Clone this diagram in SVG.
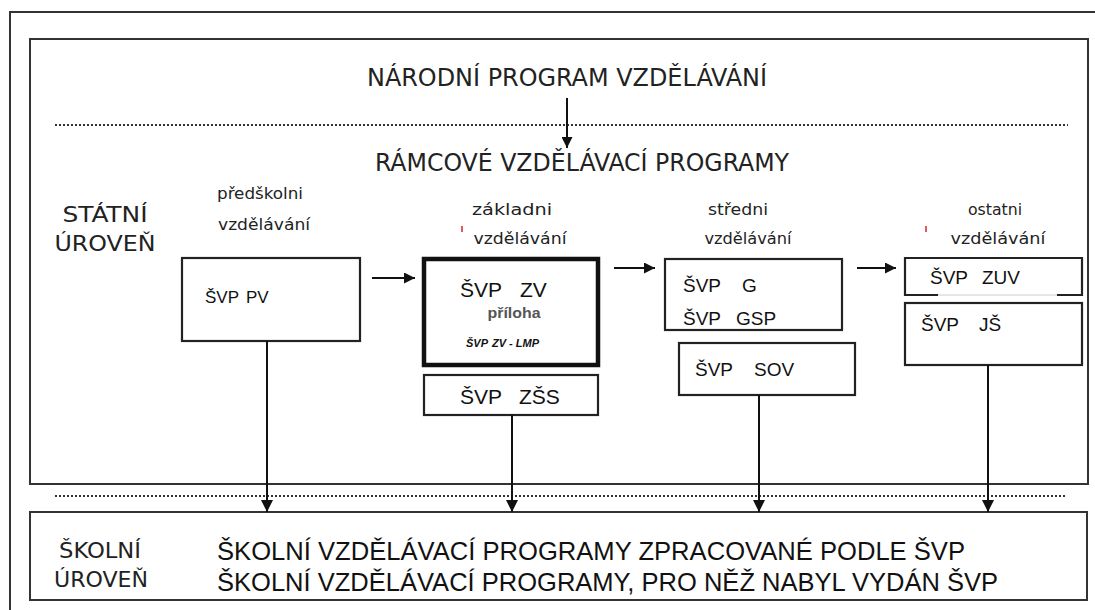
<svg xmlns="http://www.w3.org/2000/svg" width="1095" height="610" viewBox="0 0 1095 610">
<defs>
<marker id="ah" viewBox="0 0 10 10" refX="10" refY="5" markerWidth="11" markerHeight="11" markerUnits="userSpaceOnUse" orient="auto">
<path d="M0,0 L10,5 L0,10 z" fill="#111"/>
</marker>
<marker id="ahv" viewBox="0 0 10 10" refX="10" refY="5" markerWidth="12" markerHeight="12" markerUnits="userSpaceOnUse" orient="auto">
<path d="M0,0 L10,5 L0,10 z" fill="#111"/>
</marker>
</defs>
<style>
.frame{fill:none;stroke:#333;stroke-width:2}
.box{fill:#fff;stroke:#222;stroke-width:2.2}
.thick{fill:#fff;stroke:#111;stroke-width:4.5}
.dot{stroke:#333;stroke-width:2;stroke-dasharray:2 2;fill:none}
.con{stroke:#111;stroke-width:2;fill:none}
.t{font-family:"DejaVu Sans Condensed","DejaVu Sans",sans-serif;fill:#222}
.a{font-family:"Liberation Sans",Arial,sans-serif;fill:#111}
.red{stroke:#d22;stroke-width:1.5}
</style>
<rect width="1095" height="610" fill="#fff"/>
<rect class="frame" x="10" y="12" width="1095" height="608"/>
<g id="statni">
<rect class="frame" x="30" y="39" width="1058" height="445"/>
<text class="t" x="567" y="86" font-size="24" text-anchor="middle" textLength="400" lengthAdjust="spacingAndGlyphs">NÁRODNÍ PROGRAM VZDĚLÁVÁNÍ</text>
<text class="t" x="582" y="171" font-size="24" text-anchor="middle" textLength="414" lengthAdjust="spacingAndGlyphs">RÁMCOVÉ VZDĚLÁVACÍ PROGRAMY</text>
<text class="t" x="105" y="222" font-size="21" text-anchor="middle" textLength="85" lengthAdjust="spacingAndGlyphs">STÁTNÍ</text>
<text class="t" x="105" y="251" font-size="21" text-anchor="middle" textLength="101" lengthAdjust="spacingAndGlyphs">ÚROVEŇ</text>
<text class="t" x="260" y="199" font-size="16" text-anchor="middle" textLength="86" lengthAdjust="spacingAndGlyphs">předškolni</text>
<text class="t" x="264" y="230" font-size="16" text-anchor="middle" textLength="92" lengthAdjust="spacingAndGlyphs">vzdělávání</text>
<text class="t" x="512" y="215" font-size="16" text-anchor="middle" textLength="80" lengthAdjust="spacingAndGlyphs">základni</text>
<text class="t" x="520" y="244" font-size="16" text-anchor="middle" textLength="93" lengthAdjust="spacingAndGlyphs">vzdělávání</text>
<line class="red" x1="462" y1="226" x2="462" y2="232"/>
<text class="t" x="738" y="215" font-size="16" text-anchor="middle" textLength="60" lengthAdjust="spacingAndGlyphs">středni</text>
<text class="t" x="748" y="244" font-size="16" text-anchor="middle" textLength="87" lengthAdjust="spacingAndGlyphs">vzdělávání</text>
<text class="t" x="995" y="215" font-size="16" text-anchor="middle" textLength="54" lengthAdjust="spacingAndGlyphs">ostatni</text>
<text class="t" x="998" y="244" font-size="16" text-anchor="middle" textLength="95" lengthAdjust="spacingAndGlyphs">vzdělávání</text>
<line class="red" x1="926" y1="226" x2="926" y2="232"/>
</g>
<g id="svp-pv">
<rect class="box" x="182" y="258" width="178" height="83"/>
<text class="a" y="303" font-size="17"><tspan x="205">ŠVP</tspan><tspan x="246">PV</tspan></text>
</g>
<g id="svp-zv">
<rect class="thick" x="424" y="259" width="174" height="106"/>
<text class="a" y="297" font-size="21"><tspan x="460">ŠVP</tspan><tspan x="520">ZV</tspan></text>
<text class="a" x="514" y="318" font-size="15" font-weight="bold" text-anchor="middle" style="fill:#555" textLength="53" lengthAdjust="spacingAndGlyphs">příloha</text>
<text class="a" y="347" font-size="11" font-weight="bold" font-style="italic"><tspan x="466">ŠVP</tspan><tspan x="492">ZV - LMP</tspan></text>
</g>
<g id="svp-zss">
<rect class="box" x="424" y="375" width="174" height="40"/>
<text class="a" y="404" font-size="21"><tspan x="460">ŠVP</tspan><tspan x="519">ZŠS</tspan></text>
</g>
<g id="svp-g">
<rect class="box" x="665" y="259" width="177" height="71"/>
<text class="a" y="292" font-size="19"><tspan x="683">ŠVP</tspan><tspan x="742">G</tspan></text>
<text class="a" y="325" font-size="19"><tspan x="683">ŠVP</tspan><tspan x="736">GSP</tspan></text>
</g>
<g id="svp-sov">
<rect class="box" x="679" y="343" width="176" height="52"/>
<text class="a" y="376" font-size="19"><tspan x="695">ŠVP</tspan><tspan x="754">SOV</tspan></text>
</g>
<g id="svp-zuv">
<path class="box" d="M938,295 L905,295 L905,258 L1082,258 L1082,295 L1057,295"/>
<line x1="938" y1="295" x2="1057" y2="295" stroke="#ccc" stroke-width="1"/>
<text class="a" y="284" font-size="19"><tspan x="930">ŠVP</tspan><tspan x="982">ZUV</tspan></text>
</g>
<g id="svp-js">
<rect class="box" x="905" y="303" width="177" height="62"/>
<text class="a" y="331" font-size="19"><tspan x="921">ŠVP</tspan><tspan x="979">JŠ</tspan></text>
</g>
<g id="skolni">
<rect class="frame" x="30" y="512" width="1057" height="88"/>
<text class="t" x="100" y="558" font-size="21" text-anchor="middle" textLength="82" lengthAdjust="spacingAndGlyphs">ŠKOLNÍ</text>
<text class="t" x="101" y="587" font-size="21" text-anchor="middle" textLength="94" lengthAdjust="spacingAndGlyphs">ÚROVEŇ</text>
<text class="a" x="217" y="560" font-size="25" textLength="748" lengthAdjust="spacingAndGlyphs">ŠKOLNÍ VZDĚLÁVACÍ PROGRAMY ZPRACOVANÉ PODLE ŠVP</text>
<text class="a" x="217" y="591" font-size="25" textLength="781" lengthAdjust="spacingAndGlyphs">ŠKOLNÍ VZDĚLÁVACÍ PROGRAMY, PRO NĚŽ NABYL VYDÁN ŠVP</text>
</g>
<g id="connectors">
<line class="dot" x1="55" y1="125" x2="1068" y2="125"/>
<line class="dot" x1="55" y1="496" x2="1065" y2="496"/>
<line class="con" x1="567" y1="98" x2="567" y2="148" marker-end="url(#ah)"/>
<line class="con" x1="372" y1="278" x2="415" y2="278" marker-end="url(#ah)"/>
<line class="con" x1="614" y1="268" x2="655" y2="268" marker-end="url(#ah)"/>
<line class="con" x1="857" y1="268" x2="896" y2="268" marker-end="url(#ah)"/>
<line class="con" x1="267" y1="341" x2="267" y2="512" marker-end="url(#ahv)"/>
<line class="con" x1="512" y1="415" x2="512" y2="512" marker-end="url(#ahv)"/>
<line class="con" x1="759" y1="395" x2="759" y2="512" marker-end="url(#ahv)"/>
<line class="con" x1="988" y1="365" x2="988" y2="512" marker-end="url(#ahv)"/>
</g>
</svg>
